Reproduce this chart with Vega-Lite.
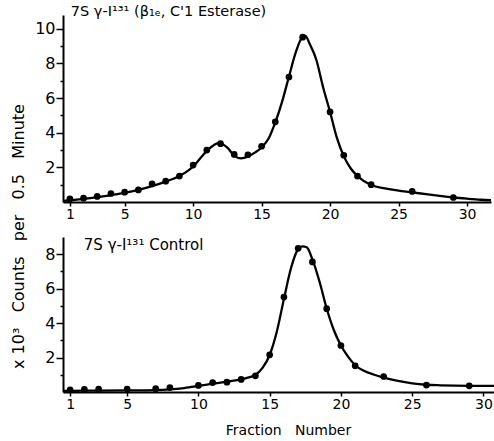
{
  "$schema": "https://vega.github.io/schema/vega-lite/v6.json",
  "padding": {"left": 10, "top": 4, "right": 0, "bottom": 0},
  "background": "white",
  "bounds": "flush",
  "spacing": 35,
  "config": {
    "font": "DejaVu Sans",
    "view": {"stroke": null},
    "axis": {
      "domainColor": "black", "domainWidth": 2, "tickColor": "black", "tickWidth": 1.5,
      "labelColor": "black", "titleColor": "black", "grid": false,
      "labelFont": "DejaVu Sans", "titleFont": "DejaVu Sans", "titleFontWeight": "normal"
    }
  },
  "datasets": {
    "top_pts": [
      {"fraction": 1, "counts": 0.18}, {"fraction": 2, "counts": 0.22}, {"fraction": 3, "counts": 0.32},
      {"fraction": 4, "counts": 0.49}, {"fraction": 5, "counts": 0.57}, {"fraction": 6, "counts": 0.7},
      {"fraction": 7, "counts": 1.05}, {"fraction": 8, "counts": 1.2}, {"fraction": 9, "counts": 1.5},
      {"fraction": 10, "counts": 2.13}, {"fraction": 11, "counts": 3.0}, {"fraction": 12, "counts": 3.37},
      {"fraction": 13, "counts": 2.75}, {"fraction": 14, "counts": 2.73}, {"fraction": 15, "counts": 3.22},
      {"fraction": 16, "counts": 4.63}, {"fraction": 17, "counts": 7.22}, {"fraction": 18, "counts": 9.52},
      {"fraction": 20, "counts": 5.2}, {"fraction": 21, "counts": 2.7}, {"fraction": 22, "counts": 1.5},
      {"fraction": 23, "counts": 1.0}, {"fraction": 26, "counts": 0.61}, {"fraction": 29, "counts": 0.26}
    ],
    "top_curve": [
      {"fraction": 0.55, "counts": 0.07}, {"fraction": 1, "counts": 0.1}, {"fraction": 2, "counts": 0.18},
      {"fraction": 3, "counts": 0.28}, {"fraction": 4, "counts": 0.4}, {"fraction": 5, "counts": 0.53},
      {"fraction": 6, "counts": 0.7}, {"fraction": 7, "counts": 0.92}, {"fraction": 8, "counts": 1.18},
      {"fraction": 9, "counts": 1.5}, {"fraction": 10, "counts": 2.05}, {"fraction": 10.5, "counts": 2.5},
      {"fraction": 11, "counts": 2.95}, {"fraction": 11.5, "counts": 3.28}, {"fraction": 11.9, "counts": 3.42},
      {"fraction": 12.5, "counts": 3.14}, {"fraction": 13, "counts": 2.68}, {"fraction": 13.5, "counts": 2.52},
      {"fraction": 14, "counts": 2.62}, {"fraction": 14.5, "counts": 2.85}, {"fraction": 15, "counts": 3.15},
      {"fraction": 15.5, "counts": 3.65}, {"fraction": 16, "counts": 4.6}, {"fraction": 16.5, "counts": 5.8},
      {"fraction": 17, "counts": 7.25}, {"fraction": 17.5, "counts": 8.65}, {"fraction": 18, "counts": 9.55},
      {"fraction": 18.2, "counts": 9.6}, {"fraction": 18.5, "counts": 9.15}, {"fraction": 19, "counts": 8.2},
      {"fraction": 19.5, "counts": 6.6}, {"fraction": 20, "counts": 5.2}, {"fraction": 20.5, "counts": 3.7},
      {"fraction": 21, "counts": 2.65}, {"fraction": 21.5, "counts": 1.95}, {"fraction": 22, "counts": 1.5},
      {"fraction": 23, "counts": 0.98}, {"fraction": 24, "counts": 0.78}, {"fraction": 25, "counts": 0.66},
      {"fraction": 26, "counts": 0.56}, {"fraction": 27, "counts": 0.45}, {"fraction": 28, "counts": 0.35},
      {"fraction": 29, "counts": 0.26}, {"fraction": 30, "counts": 0.19}, {"fraction": 31, "counts": 0.13},
      {"fraction": 31.75, "counts": 0.1}
    ],
    "bot_pts": [
      {"fraction": 1, "counts": 0.13}, {"fraction": 2, "counts": 0.15}, {"fraction": 3, "counts": 0.17},
      {"fraction": 5, "counts": 0.17}, {"fraction": 7, "counts": 0.19}, {"fraction": 8, "counts": 0.26},
      {"fraction": 10, "counts": 0.38}, {"fraction": 11, "counts": 0.55}, {"fraction": 12, "counts": 0.57},
      {"fraction": 13, "counts": 0.73}, {"fraction": 14, "counts": 0.94}, {"fraction": 15, "counts": 2.16},
      {"fraction": 16, "counts": 5.51}, {"fraction": 17, "counts": 8.34}, {"fraction": 18, "counts": 7.55},
      {"fraction": 19, "counts": 4.84}, {"fraction": 20, "counts": 2.7}, {"fraction": 21, "counts": 1.52},
      {"fraction": 23, "counts": 0.9}, {"fraction": 26, "counts": 0.4}, {"fraction": 29, "counts": 0.36}
    ],
    "bot_curve": [
      {"fraction": 0.55, "counts": 0.06}, {"fraction": 1, "counts": 0.07}, {"fraction": 3, "counts": 0.08},
      {"fraction": 5, "counts": 0.09}, {"fraction": 7, "counts": 0.11}, {"fraction": 8, "counts": 0.15},
      {"fraction": 9, "counts": 0.23}, {"fraction": 10, "counts": 0.35}, {"fraction": 11, "counts": 0.48},
      {"fraction": 12, "counts": 0.6}, {"fraction": 13, "counts": 0.74}, {"fraction": 14, "counts": 1.0},
      {"fraction": 14.5, "counts": 1.4}, {"fraction": 15, "counts": 2.15}, {"fraction": 15.5, "counts": 3.5},
      {"fraction": 16, "counts": 5.4}, {"fraction": 16.5, "counts": 7.2}, {"fraction": 17, "counts": 8.3},
      {"fraction": 17.3, "counts": 8.46}, {"fraction": 17.6, "counts": 8.4}, {"fraction": 18, "counts": 7.7},
      {"fraction": 18.5, "counts": 6.4}, {"fraction": 19, "counts": 4.85}, {"fraction": 19.5, "counts": 3.6},
      {"fraction": 20, "counts": 2.7}, {"fraction": 20.5, "counts": 2.05}, {"fraction": 21, "counts": 1.55},
      {"fraction": 22, "counts": 1.1}, {"fraction": 23, "counts": 0.84}, {"fraction": 24, "counts": 0.64},
      {"fraction": 25, "counts": 0.5}, {"fraction": 26, "counts": 0.42}, {"fraction": 27, "counts": 0.39},
      {"fraction": 28, "counts": 0.37}, {"fraction": 29, "counts": 0.36}, {"fraction": 30, "counts": 0.35},
      {"fraction": 30.74, "counts": 0.35}
    ]
  },
  "vconcat": [
    {
      "width": 428,
      "height": 187,
      "layer": [
        {
          "data": {"name": "top_curve"},
          "mark": {"type": "line", "interpolate": "monotone", "color": "black", "strokeWidth": 2.3},
          "encoding": {
            "x": {
              "field": "fraction", "type": "quantitative",
              "scale": {"domain": [0.5, 31.75], "nice": false, "zero": false},
              "axis": {"values": [1, 5, 10, 15, 20, 25, 30], "title": null, "tickSize": 4, "labelFontSize": 14, "labelPadding": 1}
            },
            "y": {
              "field": "counts", "type": "quantitative",
              "scale": {"domain": [0, 10.8], "nice": false},
              "axis": {
                "values": [1, 2, 3, 4, 5, 6, 7, 8, 9, 10],
                "labelExpr": "datum.value % 2 == 0 ? datum.label : ''",
                "tickSize": {"condition": {"test": "datum.value % 2 == 0", "value": 7}, "value": 3},
                "labelFontSize": 16, "labelPadding": 1,
                "title": "x 10³\u00a0\u00a0\u00a0Counts\u00a0\u00a0\u00a0per\u00a0\u00a0\u00a00.5\u00a0\u00a0\u00a0Minute",
                "titleFontSize": 16, "titleAngle": -90, "titleAlign": "center", "titleBaseline": "middle",
                "titleX": -45, "titleY": 221
              }
            }
          }
        },
        {
          "data": {"name": "top_pts"},
          "mark": {"type": "circle", "color": "black", "opacity": 1, "size": 45},
          "encoding": {
            "x": {
              "field": "fraction", "type": "quantitative",
              "axis": {"values": [1, 5, 10, 15, 20, 25, 30], "title": null, "tickSize": 4, "labelFontSize": 14, "labelPadding": 1}
            },
            "y": {
              "field": "counts", "type": "quantitative",
              "axis": {
                "values": [1, 2, 3, 4, 5, 6, 7, 8, 9, 10],
                "labelExpr": "datum.value % 2 == 0 ? datum.label : ''",
                "tickSize": {"condition": {"test": "datum.value % 2 == 0", "value": 7}, "value": 3},
                "labelFontSize": 16, "labelPadding": 1,
                "title": "x 10³\u00a0\u00a0\u00a0Counts\u00a0\u00a0\u00a0per\u00a0\u00a0\u00a00.5\u00a0\u00a0\u00a0Minute",
                "titleFontSize": 16, "titleAngle": -90, "titleAlign": "center", "titleBaseline": "middle",
                "titleX": -45, "titleY": 221
              }
            }
          }
        },
        {
          "data": {"values": [{"label": "7S γ-I¹³¹ (β₁ₑ, C'1 Esterase)"}]},
          "mark": {"type": "text", "align": "left", "baseline": "alphabetic", "fontSize": 14.5, "color": "black"},
          "encoding": {
            "x": {
              "datum": 1.07, "type": "quantitative",
              "axis": {"values": [1, 5, 10, 15, 20, 25, 30], "title": null, "tickSize": 4, "labelFontSize": 14, "labelPadding": 1}
            },
            "y": {
              "datum": 10.72, "type": "quantitative",
              "axis": {
                "values": [1, 2, 3, 4, 5, 6, 7, 8, 9, 10],
                "labelExpr": "datum.value % 2 == 0 ? datum.label : ''",
                "tickSize": {"condition": {"test": "datum.value % 2 == 0", "value": 7}, "value": 3},
                "labelFontSize": 16, "labelPadding": 1,
                "title": "x 10³\u00a0\u00a0\u00a0Counts\u00a0\u00a0\u00a0per\u00a0\u00a0\u00a00.5\u00a0\u00a0\u00a0Minute",
                "titleFontSize": 16, "titleAngle": -90, "titleAlign": "center", "titleBaseline": "middle",
                "titleX": -45, "titleY": 221
              }
            },
            "text": {"field": "label", "type": "nominal"}
          }
        }
      ]
    },
    {
      "width": 431,
      "height": 155,
      "layer": [
        {
          "data": {"name": "bot_curve"},
          "mark": {"type": "line", "interpolate": "monotone", "color": "black", "strokeWidth": 2.3},
          "encoding": {
            "x": {
              "field": "fraction", "type": "quantitative",
              "scale": {"domain": [0.5, 30.74], "nice": false, "zero": false},
              "axis": {"values": [1, 5, 10, 15, 20, 25, 30], "title": "Fraction\u00a0\u00a0 Number", "titleFontSize": 14, "titlePadding": 12, "titleX": 225, "titleAlign": "center", "tickSize": 4, "labelFontSize": 14, "labelPadding": 1}
            },
            "y": {
              "field": "counts", "type": "quantitative",
              "scale": {"domain": [0, 9], "nice": false},
              "axis": {
                "values": [1, 2, 3, 4, 5, 6, 7, 8],
                "labelExpr": "datum.value % 2 == 0 ? datum.label : ''",
                "tickSize": {"condition": {"test": "datum.value % 2 == 0", "value": 7}, "value": 3},
                "labelFontSize": 16, "labelPadding": 1,
                "title": null
              }
            }
          }
        },
        {
          "data": {"name": "bot_pts"},
          "mark": {"type": "circle", "color": "black", "opacity": 1, "size": 45},
          "encoding": {
            "x": {
              "field": "fraction", "type": "quantitative",
              "axis": {"values": [1, 5, 10, 15, 20, 25, 30], "title": "Fraction\u00a0\u00a0 Number", "titleFontSize": 14, "titlePadding": 12, "titleX": 225, "titleAlign": "center", "tickSize": 4, "labelFontSize": 14, "labelPadding": 1}
            },
            "y": {
              "field": "counts", "type": "quantitative",
              "axis": {
                "values": [1, 2, 3, 4, 5, 6, 7, 8],
                "labelExpr": "datum.value % 2 == 0 ? datum.label : ''",
                "tickSize": {"condition": {"test": "datum.value % 2 == 0", "value": 7}, "value": 3},
                "labelFontSize": 16, "labelPadding": 1,
                "title": null
              }
            }
          }
        },
        {
          "data": {"values": [{"label": "7S γ-I¹³¹ Control"}]},
          "mark": {"type": "text", "align": "left", "baseline": "alphabetic", "fontSize": 15, "color": "black"},
          "encoding": {
            "x": {
              "datum": 1.96, "type": "quantitative",
              "axis": {"values": [1, 5, 10, 15, 20, 25, 30], "title": "Fraction\u00a0\u00a0 Number", "titleFontSize": 14, "titlePadding": 12, "titleX": 225, "titleAlign": "center", "tickSize": 4, "labelFontSize": 14, "labelPadding": 1}
            },
            "y": {
              "datum": 8.27, "type": "quantitative",
              "axis": {
                "values": [1, 2, 3, 4, 5, 6, 7, 8],
                "labelExpr": "datum.value % 2 == 0 ? datum.label : ''",
                "tickSize": {"condition": {"test": "datum.value % 2 == 0", "value": 7}, "value": 3},
                "labelFontSize": 16, "labelPadding": 1,
                "title": null
              }
            },
            "text": {"field": "label", "type": "nominal"}
          }
        }
      ]
    }
  ]
}
